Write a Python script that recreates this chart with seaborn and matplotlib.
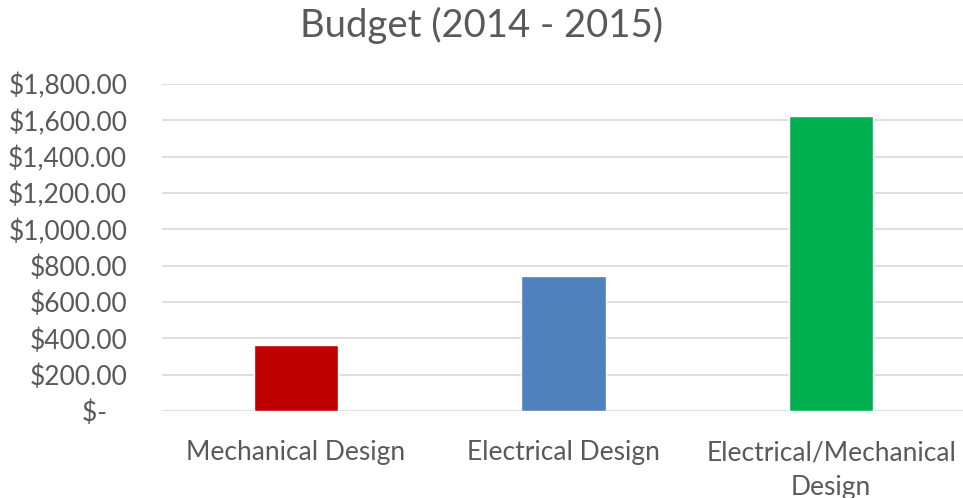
import matplotlib
matplotlib.use("Agg")
import matplotlib.pyplot as plt
import seaborn as sns
import pandas as pd
from matplotlib.ticker import FuncFormatter

categories = ["Mechanical Design", "Electrical Design", "Electrical/Mechanical\nDesign"]
budget = [365, 745, 1625]
bar_colors = ["#C00000", "#4F81BD", "#00B050"]
y_ticks = [0, 200, 400, 600, 800, 1000, 1200, 1400, 1600, 1800]
title = "Budget (2014 - 2015)"

sns.set_theme(style="white")
plt.rcParams["font.family"] = ["Lato", "DejaVu Sans"]

df = pd.DataFrame({"category": categories, "budget": budget})

fig = plt.figure(figsize=(9.63, 4.98), dpi=100)
ax = fig.add_axes([162 / 963, 1 - 411 / 498, (965 - 162) / 963, (411 - 84) / 498])

sns.barplot(data=df, x="category", y="budget", hue="category",
            palette=bar_colors, width=0.314, saturation=1, legend=False, ax=ax)

ax.set_ylim(0, 1800)
ax.set_xlim(-0.5, 2.5)
ax.set_yticks(y_ticks)


def money(v, pos):
    if v == 0:
        return "$-   "
    return f"${v:,.2f}"


ax.yaxis.set_major_formatter(FuncFormatter(money))
ax.grid(axis="y", color="#D9D9D9", linewidth=1.2)
ax.set_axisbelow(True)
for s in ax.spines.values():
    s.set_visible(False)
ax.tick_params(axis="y", length=0, pad=25, labelsize=19, labelcolor="#595959")
ax.tick_params(axis="x", length=0, pad=21, labelsize=19, labelcolor="#595959")
ax.set_xlabel("")
ax.set_ylabel("")
for lbl in ax.get_xticklabels():
    lbl.set_linespacing(1.5)

fig.text(0.5, 1 - 25 / 498, title, ha="center", va="center",
         fontsize=27.5, color="#595959")

fig.savefig("out.png", dpi=100)
